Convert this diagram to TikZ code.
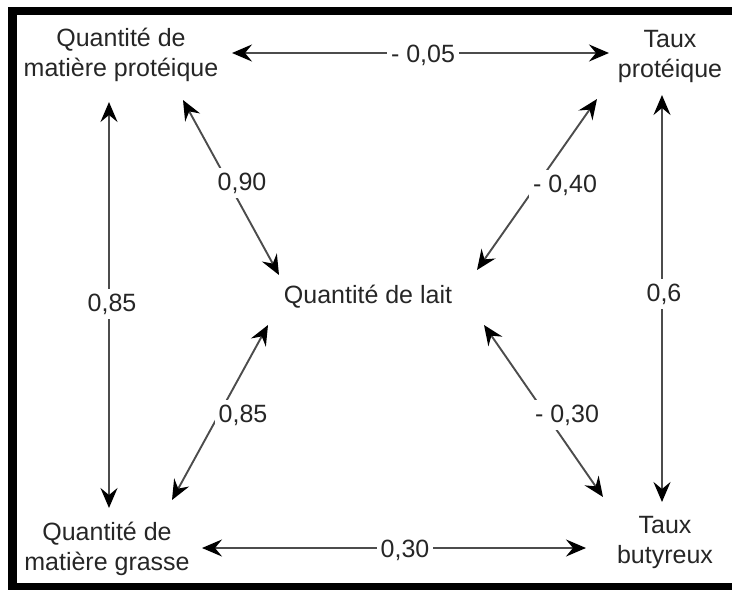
\documentclass[tikz,border=0pt]{standalone}
\usepackage{fontspec}
\setmainfont{Liberation Sans}
\usetikzlibrary{arrows.meta}
\begin{document}
\begin{tikzpicture}[x=1pt,y=-1pt,
  lbl/.style={font=\fontsize{25}{30}\selectfont, text=black!85, align=center, inner sep=0pt},
  val/.style={font=\fontsize{25}{30}\selectfont, text=black!85, fill=white, inner xsep=4pt, inner ysep=5pt, anchor=base},
  tip/.tip={Stealth[length=20pt,width=17pt,inset=7pt,black]},
  link/.style={draw=black!70, line width=1.9pt, tip-tip}]
\useasboundingbox (0,0) rectangle (732,590);
% frame
\fill[black] (8,7) rectangle (732,15);
\fill[black] (8,7) rectangle (16.5,590);
\fill[black] (8,583) rectangle (732,590);
% main nodes
\node[lbl] (mp) at (121,55) {Quantité de\\matière protéique};
\node[lbl] (tp) at (670,56) {Taux\\protéique};
\node[lbl] (mg) at (107,549) {Quantité de\\matière grasse};
\node[lbl] (tb) at (665,542) {Taux\\butyreux};
\node[lbl] (ql) at (368,297) {Quantité de lait};
% arrow tips
\coordinate (a1) at (232,53);  \coordinate (a2) at (609,53);
\coordinate (b1) at (202,548); \coordinate (b2) at (586,548);
\coordinate (c1) at (109,102); \coordinate (c2) at (109,508);
\coordinate (d1) at (662,95);  \coordinate (d2) at (662,502);
\coordinate (e1) at (183,100); \coordinate (e2) at (279,275);
\coordinate (f1) at (597,99);  \coordinate (f2) at (477,270);
\coordinate (g1) at (268,325); \coordinate (g2) at (172,500);
\coordinate (h1) at (484,325); \coordinate (h2) at (603,497);
% connectors
\draw[link] (a1) -- (a2);
\draw[link] (b1) -- (b2);
\draw[link] (c1) -- (c2);
\draw[link] (d1) -- (d2);
\draw[link] (e1) -- (e2);
\draw[link] (f1) -- (f2);
\draw[link] (g1) -- (g2);
\draw[link] (h1) -- (h2);
% values
\node[val] (v1) at (423,62) {- 0,05};
\node[val] (v2) at (405,557) {0,30};
\node[val] (v3) at (112,311) {0,85};
\node[val] (v4) at (664,301) {0,6};
\node[val] (v5) at (242,190) {0,90};
\node[val] (v6) at (565,192) {- 0,40};
\node[val] (v7) at (243,422) {0,85};
\node[val] (v8) at (567,422) {- 0,30};
\end{tikzpicture}
\end{document}
